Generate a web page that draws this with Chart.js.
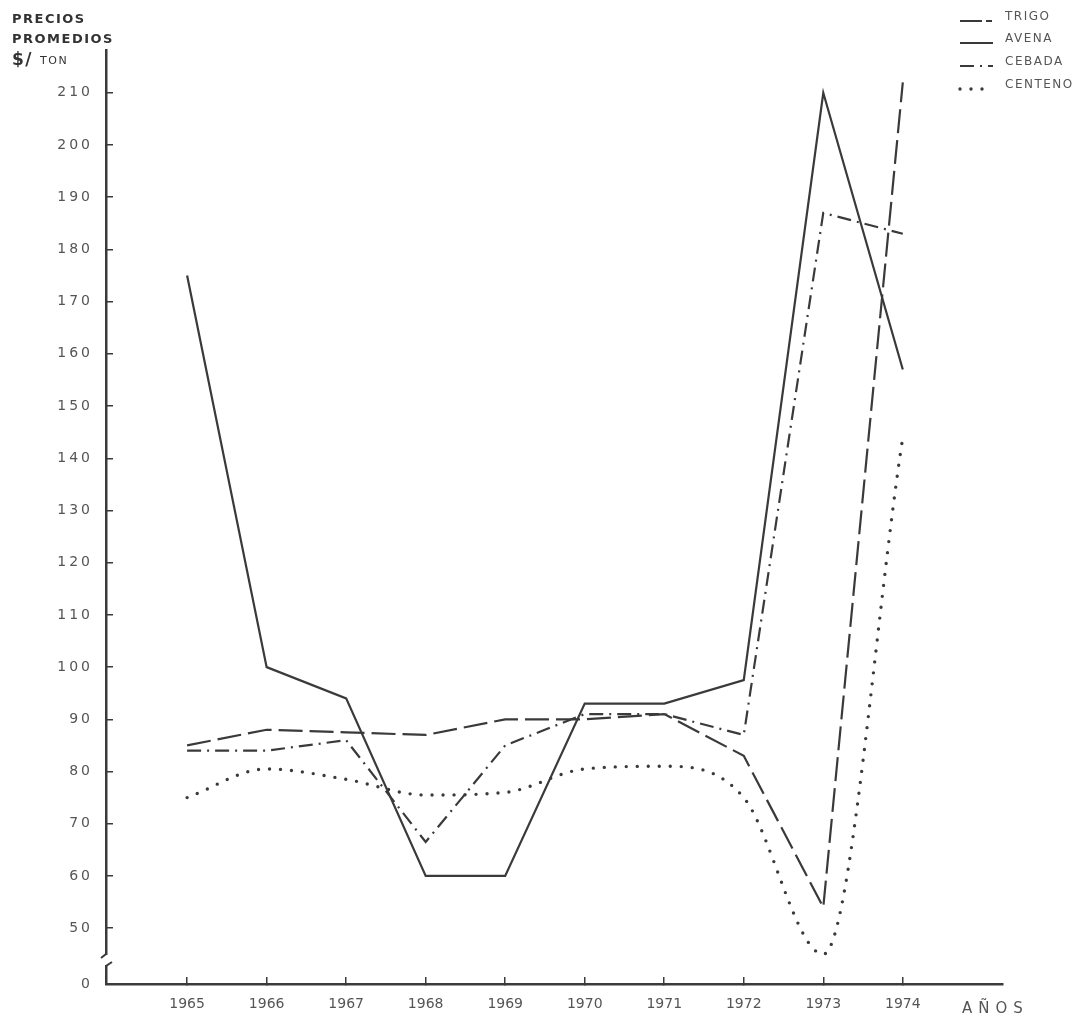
<!DOCTYPE html>
<html>
<head>
<meta charset="utf-8">
<script src="https://cdn.jsdelivr.net/npm/chart.js@4.4.1/dist/chart.umd.min.js"></script>
<style>
    body { margin: 0; background: #fff; }
    #wrap { position: relative; width: 1080px; height: 1019px; }
</style>
</head>
<body>
<div id="wrap"><canvas id="preciosChart"></canvas></div>
<script>
//data
let years = [1965, 1966, 1967, 1968, 1969, 1970, 1971, 1972, 1973, 1974];
let trigo = [85, 88, 87.5, 87, 90, 90, 91, 83, 54, 212];
let avena = [175, 100, 94, 60, 60, 93, 93, 97.5, 210, 157];
let cebada = [84, 84, 86, 66.5, 85, 91, 91, 87, 187, 183];
let centeno = [75, 80.5, 78.5, 75.5, 76, 80.5, 81, 75, 45, 144];
let yTicks = [50, 60, 70, 80, 90, 100, 110, 120, 130, 140, 150, 160, 170, 180, 190, 200, 210];

let ink = "#3a3a3a";
let textGray = "#555";
let yMin = 39.3; // bottom of the broken axis, labelled "0"

function points(values) {
    return years.map((yr, i) => ({ x: yr, y: values[i] }));
}

let seriesStyles = [
    { label: "TRIGO", data: trigo, dash: [24, 7], width: 2.2 },
    { label: "AVENA", data: avena, dash: [], width: 2.2 },
    { label: "CEBADA", data: cebada, dash: [14, 6, 2, 6], width: 2.2 },
    { label: "CENTENO", data: centeno, dash: [0, 11], width: 3.4, round: true },
];

let chartData = {
    datasets: seriesStyles.map((s) => ({
        label: s.label,
        data: points(s.data),
        borderColor: ink,
        borderWidth: s.width,
        borderDash: s.dash,
        borderCapStyle: s.round ? "round" : "butt",
        cubicInterpolationMode: s.round ? "monotone" : "default",
        pointRadius: 0,
        fill: false,
    })),
};

//title, legend, axis break and "AÑOS"
let decorPlugin = {
    id: "decor",
    afterDraw(chart) {
        let ctx = chart.ctx;
        let area = chart.chartArea;
        ctx.save();

        // axis break on the y axis
        ctx.fillStyle = "#fff";
        ctx.fillRect(area.left - 4, 955, 10, 10);
        ctx.strokeStyle = ink;
        ctx.lineWidth = 2;
        ctx.beginPath();
        ctx.moveTo(area.left, 950);
        ctx.lineTo(area.left, 954);
        ctx.lineTo(area.left - 5, 958);
        ctx.moveTo(area.left + 6, 962);
        ctx.lineTo(area.left, 966);
        ctx.lineTo(area.left, 972);
        ctx.stroke();

        // title
        ctx.fillStyle = "#333";
        ctx.textBaseline = "alphabetic";
        ctx.textAlign = "left";
        ctx.letterSpacing = "1.5px";
        ctx.font = "bold 13px 'DejaVu Sans'";
        ctx.fillText("PRECIOS", 12, 23);
        ctx.fillText("PROMEDIOS", 12, 43);
        ctx.font = "bold 17px 'DejaVu Sans'";
        ctx.fillText("$/", 12, 65);
        ctx.font = "11px 'DejaVu Sans'";
        ctx.fillText("TON", 40, 64);

        // legend
        ctx.font = "12px 'DejaVu Sans'";
        ctx.letterSpacing = "1.5px";
        let rows = [21, 43, 66, 89];
        seriesStyles.forEach((s, i) => {
            let y = rows[i];
            ctx.save();
            ctx.strokeStyle = ink;
            ctx.lineWidth = s.width;
            ctx.lineCap = s.round ? "round" : "butt";
            let legendDash = s.label === "TRIGO" ? [22, 4, 6, 10] : s.dash;
            ctx.setLineDash(legendDash);
            ctx.beginPath();
            ctx.moveTo(960, y);
            ctx.lineTo(993, y);
            ctx.stroke();
            ctx.restore();
            ctx.fillStyle = textGray;
            ctx.fillText(s.label, 1005, y - 1);
        });

        // x axis name
        ctx.font = "15px 'DejaVu Sans'";
        ctx.letterSpacing = "6px";
        ctx.fillStyle = textGray;
        ctx.fillText("AÑOS", 962, 1013);
        ctx.letterSpacing = "0px";
        ctx.restore();
    },
    afterUpdate(chart) {
        // spaced digits on the y labels
        let y = chart.scales.y;
        if (y && !y._spaced) {
            let orig = y.drawLabels;
            y.drawLabels = function(area) {
                this.ctx.save();
                this.ctx.letterSpacing = "3px";
                orig.call(this, area);
                this.ctx.restore();
            };
            y._spaced = true;
        }
    },
};

let chartOptions = {
    responsive: true,
    maintainAspectRatio: false,
    animation: false,
    layout: { padding: { top: 50, right: 77, left: 0, bottom: 0 } },
    plugins: {
        legend: { display: false },
        tooltip: { enabled: false },
    },
    scales: {
        x: {
            type: "linear",
            min: 1963.98,
            max: 1975.26,
            afterBuildTicks: (scale) => {
                scale.ticks = years.map((v) => ({ value: v }));
            },
            afterFit: (scale) => {
                scale.height = 35;
            },
            border: { color: ink, width: 2.5 },
            grid: {
                drawOnChartArea: false,
                tickLength: -7,
                color: ink,
                lineWidth: 1.5,
            },
            ticks: {
                padding: 19,
                color: textGray,
                font: { family: "DejaVu Sans", size: 14 },
                maxRotation: 0,
                callback: (v) => String(v),
            },
        },
        y: {
            type: "linear",
            min: yMin,
            max: 218.2,
            afterBuildTicks: (scale) => {
                scale.ticks = [{ value: yMin }].concat(yTicks.map((v) => ({ value: v })));
            },
            afterFit: (scale) => {
                scale.width = 106;
            },
            border: { color: ink, width: 2.5 },
            grid: {
                drawOnChartArea: false,
                tickLength: -7,
                lineWidth: 1.5,
                color: (c) => (c.tick && c.tick.value < 45 ? "rgba(0,0,0,0)" : ink),
            },
            ticks: {
                padding: 20,
                color: textGray,
                font: { family: "DejaVu Sans", size: 14 },
                callback: (v) => (v < 45 ? "0" : String(v)),
            },
        },
    },
};

let preciosCanvas = document.getElementById("preciosChart").getContext("2d");
new Chart(preciosCanvas, {
    type: "line",
    data: chartData,
    options: chartOptions,
    plugins: [decorPlugin],
});
</script>
</body>
</html>
